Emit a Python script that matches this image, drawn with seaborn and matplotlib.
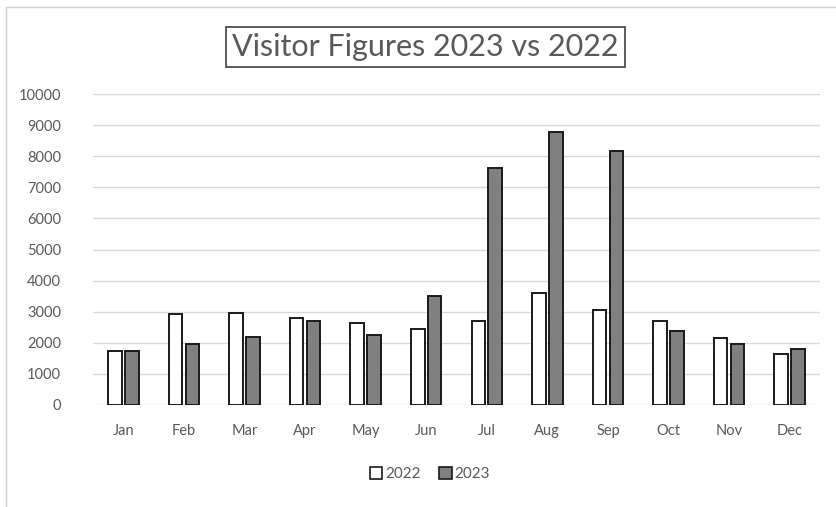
import matplotlib
matplotlib.use("Agg")
import matplotlib.pyplot as plt
from matplotlib.patches import Patch, Rectangle
import seaborn as sns
import pandas as pd

months = ["Jan", "Feb", "Mar", "Apr", "May", "Jun", "Jul", "Aug", "Sep", "Oct", "Nov", "Dec"]
visitors_2022 = [1730, 2910, 2960, 2800, 2630, 2450, 2700, 3610, 3050, 2700, 2140, 1630]
visitors_2023 = [1730, 1970, 2190, 2690, 2240, 3490, 7610, 8790, 8160, 2380, 1970, 1800]
years = ["2022", "2023"]
yticks = list(range(0, 10001, 1000))

df = pd.DataFrame({
    "Month": months * 2,
    "Visitors": visitors_2022 + visitors_2023,
    "Year": [years[0]] * len(months) + [years[1]] * len(months),
})

sns.set_theme(style="white")
plt.rcParams["font.family"] = ["Lato", "DejaVu Sans"]

fig = plt.figure(figsize=(8.37, 5.07), dpi=100)
ax = fig.add_axes([93 / 837, 1 - 405 / 507, (820 - 93) / 837, (405 - 94) / 507])

colors = {"2022": "#ffffff", "2023": "#808080"}
sns.barplot(data=df, x="Month", y="Visitors", hue="Year", order=months,
            hue_order=years, palette=colors, width=0.56, gap=0.2,
            edgecolor="#1a1a1a", linewidth=1.4, legend=False, ax=ax, zorder=3)

ax.set_ylim(0, 10000)
ax.set_yticks(yticks)
ax.set_yticklabels([str(v) for v in yticks])
ax.set_xlim(-0.5, len(months) - 0.5)
ax.set_xlabel("")
ax.set_ylabel("")
ax.grid(axis="y", color="#d9d9d9", linewidth=1.0, zorder=0)
ax.grid(axis="x", visible=False)
for s in ax.spines.values():
    s.set_visible(False)
ax.tick_params(axis="both", length=0, labelsize=10.5, labelcolor="#595959")
ax.tick_params(axis="x", pad=14)
ax.tick_params(axis="y", pad=23)

fig.text(0.508, 1 - 47 / 507, "Visitor Figures 2023 vs 2022", ha="center", va="center",
         fontsize=22, color="#595959", fontweight="normal",
         bbox=dict(boxstyle="square,pad=0.2", facecolor="white", edgecolor="#404040", linewidth=1.2))

# outer chart border
fig.patches.append(Rectangle((6 / 837, -0.1), 1.2, 1 - 7 / 507 + 0.1, transform=fig.transFigure,
                             fill=False, edgecolor="#d0d0d0", linewidth=1.0))

handles = [Patch(facecolor=colors[y], edgecolor="#1a1a1a", linewidth=1.2, label=y) for y in years]
fig.legend(handles=handles, loc="center", bbox_to_anchor=(0.514, 1 - 474 / 507), ncol=2,
           frameon=False, fontsize=11, labelcolor="#595959", handlelength=0.8,
           handleheight=0.8, handletextpad=0.2, columnspacing=1.2)

fig.savefig("out.png", dpi=100)
